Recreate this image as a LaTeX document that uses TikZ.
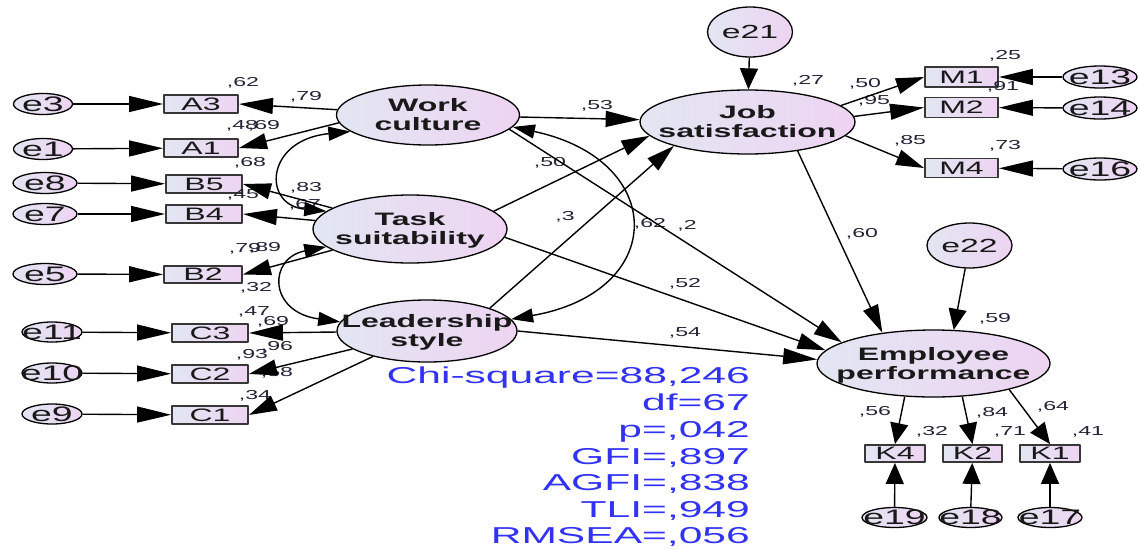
\documentclass[tikz,border=0pt]{standalone}
\usepackage{fontspec}
\setmainfont{Liberation Sans}
\usepackage{graphicx}
\usetikzlibrary{arrows.meta,shapes.geometric}
\newcommand{\zb}[1]{\hbox to 0pt{\hss\vbox to 0pt{\vss\hbox{#1}\vss}\hss}}
\newcommand{\zbd}[1]{\hbox to 0pt{\hss\vbox to 0pt{\vss\hbox{#1}\vss\kern-5pt}\hss}}
\newcommand{\hs}[1]{\scalebox{1.78}[1]{#1}}
\newcommand{\twol}[2]{\zbd{\hs{\begin{tabular}{@{}c@{}}#1\\#2\end{tabular}}}}
\newcommand{\onel}[1]{\zb{\hs{#1}}}
\definecolor{fillL}{RGB}{226,230,242}
\definecolor{fillR}{RGB}{238,212,242}
\definecolor{numc}{RGB}{35,35,55}
\definecolor{fitc}{RGB}{50,50,245}
\definecolor{boxc}{RGB}{55,55,55}
\definecolor{txtc}{RGB}{25,25,25}
\begin{document}
\begin{tikzpicture}[x=1pt,y=-1pt,line join=round,
  lat/.style={ellipse, draw=black, line width=1.3pt, left color=fillL, right color=fillR, inner sep=0pt, font=\bfseries\fontsize{18}{19}\selectfont, text=txtc},
  obsv/.style={rectangle, draw=boxc, line width=1.9pt, left color=fillL, right color=fillR, inner sep=0pt, minimum width=75pt, minimum height=18pt, font=\fontsize{18}{18}\selectfont, text=txtc},
  errv/.style={ellipse, draw=black, line width=1.3pt, left color=fillL, right color=fillR, inner sep=0pt, minimum width=60pt, minimum height=21pt, font=\fontsize{21}{21}\selectfont, text=txtc},
  num/.style={inner sep=0pt, font=\fontsize{13}{13}\selectfont, text=numc},
  fitt/.style={inner sep=0pt, anchor=base east, font=\fontsize{23}{23}\selectfont, text=fitc},
  conn/.style={draw=black, line width=1.4pt},
  harr/.style={conn, -{Triangle[length=34pt,width=16pt]}},
  darr/.style={conn, -{Triangle[length=28pt,width=16pt]}},
  varr/.style={conn, -{Triangle[length=21pt,width=18pt]}},
  cov/.style={conn, {Triangle[length=22pt,width=14pt]}-{Triangle[length=22pt,width=14pt]}}
]
\fill[white] (0,0) rectangle (1139,549);
\useasboundingbox (0,0) rectangle (1139,549);

% error terms left
\node[errv, minimum width=59pt] (e3) at (43,104) {\onel{e3}};
\node[errv, minimum width=59pt] (e1) at (43,149) {\onel{e1}};
\node[errv, minimum width=64pt] (e8) at (45,183) {\onel{e8}};
\node[errv, minimum width=64pt] (e7) at (45,214) {\onel{e7}};
\node[errv, minimum width=64pt] (e5) at (45,274) {\onel{e5}};
\node[errv, minimum height=20pt] (e11) at (52,332) {\onel{e11}};
\node[errv, minimum height=20pt] (e10) at (52,373) {\onel{e10}};
\node[errv, minimum height=20pt] (e9) at (52,414) {\onel{e9}};

% observed left
\node[obsv, minimum width=74pt] (a3) at (201,104) {\onel{A3}};
\node[obsv, minimum width=74pt] (a1) at (201,148) {\onel{A1}};
\node[obsv, minimum width=76pt] (b5) at (204,184) {\onel{B5}};
\node[obsv, minimum width=76pt] (b4) at (204,214) {\onel{B4}};
\node[obsv, minimum width=78pt, minimum height=17pt] (b2) at (203,274.5) {\onel{B2}};
\node[obsv, minimum width=76pt] (c3) at (210,333) {\onel{C3}};
\node[obsv, minimum width=76pt] (c2) at (210,374) {\onel{C2}};
\node[obsv, minimum width=76pt] (c1) at (210,415) {\onel{C1}};

% latent
\node[lat, minimum width=183pt, minimum height=60pt] (wc) at (428,115) {\twol{Work}{culture}};
\node[lat, minimum width=194pt, minimum height=68pt] (ts) at (410,229) {\twol{Task}{suitability}};
\node[lat, minimum width=180pt, minimum height=62pt] (ls) at (427,331) {\twol{Leadership}{style}};
\node[lat, minimum width=215pt, minimum height=64pt] (job) at (747.5,122) {\twol{Job}{satisfaction}};
\node[lat, minimum width=233pt, minimum height=67pt] (ep) at (933.5,363.5) {\twol{Employee}{performance}};

\node[errv, minimum width=85pt, minimum height=50pt, font=\fontsize{19}{19}\selectfont] (e21) at (750,32) {\onel{e21}};
\node[errv, minimum width=85pt, minimum height=45pt, font=\fontsize{19}{19}\selectfont] (e22) at (969.5,245.5) {\onel{e22}};

% M indicators
\node[obsv, minimum width=73pt, minimum height=20pt] (m1) at (961.5,77) {\onel{M1}};
\node[obsv, minimum width=73pt, minimum height=20pt] (m2) at (961.5,107.5) {\onel{M2}};
\node[obsv, minimum width=73pt, minimum height=19pt] (m4) at (961.5,168) {\onel{M4}};
\node[errv, minimum width=74pt, minimum height=22pt] (e13) at (1100,77) {\onel{e13}};
\node[errv, minimum width=74pt, minimum height=22pt] (e14) at (1100,108) {\onel{e14}};
\node[errv, minimum width=74pt, minimum height=22pt] (e16) at (1100,169) {\onel{e16}};

% K indicators
\node[obsv, minimum width=60pt, minimum height=17pt] (k4) at (895,453.5) {\onel{K4}};
\node[obsv, minimum width=59pt, minimum height=17pt] (k2) at (972.5,453.5) {\onel{K2}};
\node[obsv, minimum width=60pt, minimum height=17pt] (k1) at (1050,453.5) {\onel{K1}};
\node[errv, minimum width=65pt, minimum height=20pt] (e19) at (894.5,517.5) {\onel{e19}};
\node[errv, minimum width=63pt, minimum height=20pt] (e18) at (970.5,517.5) {\onel{e18}};
\node[errv, minimum width=64pt, minimum height=20pt] (e17) at (1050,517.5) {\onel{e17}};

% numeric labels
\node[num] (n1) at (243,83) {\hs{,62}};
\node[num] (n2) at (306,97) {\hs{,79}};
\node[num] (n3) at (242,126) {\hs{,48}};
\node[num] (n4) at (264,126) {\hs{,69}};
\node[num] (n5) at (250,163) {\hs{,68}};
\node[num] (n6) at (306,188) {\hs{,83}};
\node[num] (n7) at (243,195) {\hs{,45}};
\node[num] (n8) at (305,205) {\hs{,67}};
\node[num] (n9) at (245,249) {\hs{,79}};
\node[num] (n10) at (265,248) {\hs{,89}};
\node[num] (n11) at (256,288) {\hs{,32}};
\node[num] (n12) at (254,312) {\hs{,47}};
\node[num] (n13) at (273,322) {\hs{,69}};
\node[num] (n14) at (252,355) {\hs{,93}};
\node[num] (n15) at (277,347) {\hs{,96}};
\node[num] (n16) at (277,373) {\hs{,58}};
\node[num] (n17) at (255,396) {\hs{,34}};
\node[num] (n18) at (597,106) {\hs{,53}};
\node[num] (n19) at (550,163) {\hs{,50}};
\node[num] (n20) at (565,217) {\hs{,3}};
\node[num] (n21) at (650,224) {\hs{,62}};
\node[num] (n22) at (687,226) {\hs{,2}};
\node[num] (n23) at (685,284) {\hs{,52}};
\node[num] (n24) at (685,333) {\hs{,54}};
\node[num] (n25) at (862,234) {\hs{,60}};
\node[num] (n26) at (808,81) {\hs{,27}};
\node[num] (n27) at (865,84) {\hs{,50}};
\node[num] (n28) at (874,101) {\hs{,95}};
\node[num] (n29) at (1005,56) {\hs{,25}};
\node[num] (n30) at (1003,87) {\hs{,91}};
\node[num] (n31) at (910,141) {\hs{,85}};
\node[num] (n32) at (1005,146) {\hs{,73}};
\node[num] (n33) at (995,319) {\hs{,59}};
\node[num] (n34) at (875,412) {\hs{,56}};
\node[num] (n35) at (992,413) {\hs{,84}};
\node[num] (n36) at (1053,407) {\hs{,64}};
\node[num] (n37) at (932,432) {\hs{,32}};
\node[num] (n38) at (1010,432) {\hs{,71}};
\node[num] (n39) at (1088,432) {\hs{,41}};

% fit statistics
\node[fitt] (f1) at (750,383) {\scalebox{1.85}[1]{Chi-square=88,246}};
\node[fitt] (f2) at (750,410) {\scalebox{1.85}[1]{df=67}};
\node[fitt] (f3) at (750,437) {\scalebox{1.85}[1]{p=,042}};
\node[fitt] (f4) at (750,464) {\scalebox{1.85}[1]{GFI=,897}};
\node[fitt] (f5) at (750,490) {\scalebox{1.85}[1]{AGFI=,838}};
\node[fitt] (f6) at (750,517) {\scalebox{1.85}[1]{TLI=,949}};
\node[fitt] (f7) at (750,543) {\scalebox{1.85}[1]{RMSEA=,056}};

% error arrows left
\draw[harr] (e3) -- (a3);
\draw[harr] (e1) -- (a1);
\draw[harr] (e8) -- (b5);
\draw[harr] (e7) -- (b4);
\draw[harr] (e5) -- (b2);
\draw[harr] (e11) -- (c3);
\draw[harr] (e10) -- (c2);
\draw[harr] (e9) -- (c1);

% loadings left
\draw[harr] (wc) -- (a3.east);
\draw[darr] (wc.185) -- (a1.east);
\draw[darr] (ts) -- (b5.east);
\draw[harr] (ts) -- (b4.east);
\draw[darr] (ts) -- (b2.east);
\draw[harr] (ls) -- (c3.east);
\draw[darr] (ls) -- (c2.east);
\draw[darr] (ls) -- (c1.east);

% covariances
\draw[cov] (wc.192) .. controls (265,140) and (262,205) .. (ts.168);
\draw[cov] (ts.192) .. controls (268,258) and (268,312) .. (ls.174);
\draw[cov] (wc.352) .. controls (668,160) and (668,292) .. (ls.8);

% structural paths
\draw[harr] (wc) -- (job);
\draw[darr] (ts.12) -- (job.188);
\draw[darr] (ls.20) -- (job.198);
\draw[darr] (wc.350) -- (ep.167);
\draw[darr] (ts.355) -- (ep.173);
\draw[harr] (ls.east) -- (ep.178);
\draw[darr] (job.330) -- (ep.149);
\draw[varr] (e21) -- (job);
\draw[varr] (e22) -- (ep.59);

% M loadings
\draw[darr] (job.10) -- (m1.west);
\draw[harr] (job.3) -- (m2.west);
\draw[darr] (job.352) -- (m4.west);
\draw[harr] (e13) -- (m1);
\draw[harr] (e14) -- (m2);
\draw[harr] (e16) -- (m4);

% K loadings
\draw[varr] (ep.229) -- (k4.north);
\draw[varr] (ep.311) -- (k2.north);
\draw[varr] (ep.341) -- (k1.north);
\draw[varr] (e19) -- (k4);
\draw[varr] (e18) -- (k2);
\draw[varr] (e17) -- (k1);
\end{tikzpicture}
\end{document}
